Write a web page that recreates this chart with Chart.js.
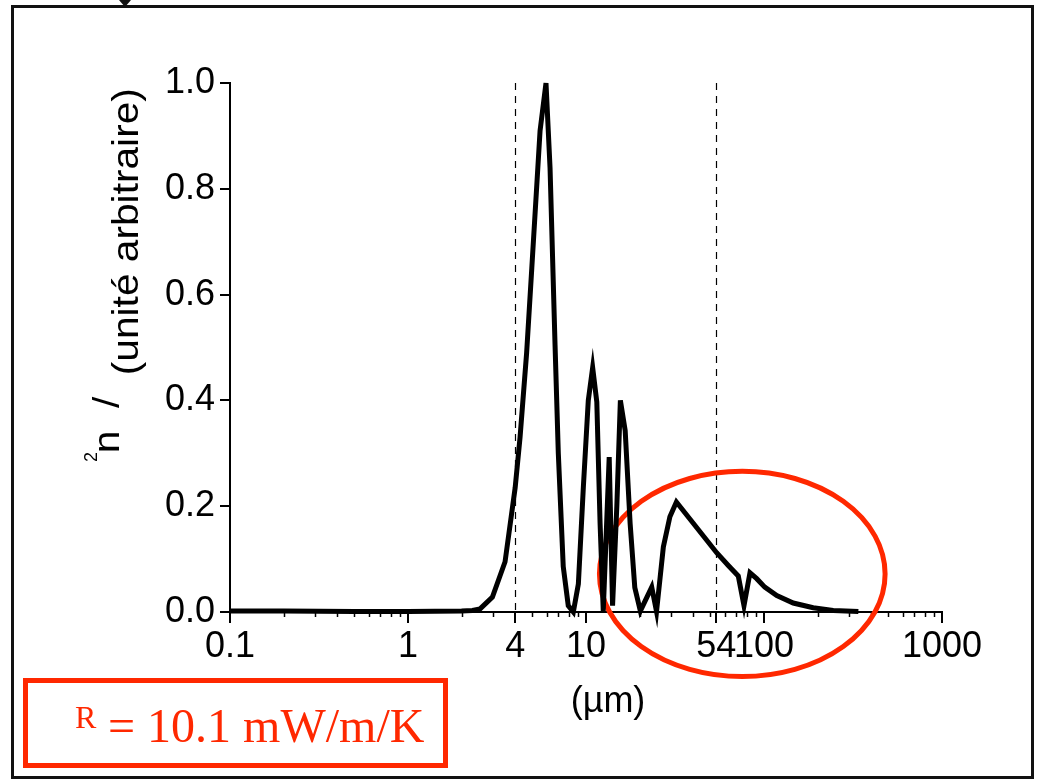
<!DOCTYPE html>
<html>
<head>
<meta charset="utf-8">
<script src="https://cdn.jsdelivr.net/npm/chart.js@4.4.0/dist/chart.umd.min.js"></script>
<style>
  html, body { margin: 0; padding: 0; background: #fff; }
  #wrap { width: 1040px; height: 780px; }
</style>
</head>
<body>
<div id="wrap"><canvas id="spectre" width="1040" height="780"></canvas></div>
<script>
// Longueurs d'onde (µm) et intensité relative
const wavelengths = [0.1, 0.2, 0.5, 1, 2, 2.3, 2.54, 2.98, 3.51, 4.0, 4.26, 4.64, 4.96, 5.52, 5.96,
    6.28, 6.7, 6.99, 7.45, 7.95, 8.49, 9.06, 9.66, 10.3, 10.9, 11.5, 12.0, 12.5, 13.5, 14.1,
    14.9, 15.6, 16.6, 17.7, 18.8, 20.2, 23.4, 24.9, 27.2, 29.6, 32.2, 54.2, 63.0, 71.7, 77.2,
    83.4, 91.0, 101, 118, 146, 189, 245, 339];
const intensity = [0.002, 0.002, 0.001, 0.001, 0.002, 0.003, 0.006, 0.028, 0.095, 0.235, 0.33, 0.49, 0.65, 0.91, 1.0,
    0.84, 0.505, 0.30, 0.086, 0.012, 0.0, 0.053, 0.235, 0.40, 0.462, 0.397, 0.167, 0.002, 0.293, 0.012,
    0.2, 0.40, 0.343, 0.167, 0.046, 0.002, 0.047, 0.001, 0.123, 0.18, 0.208, 0.112, 0.088, 0.068, 0.012,
    0.074, 0.063, 0.047, 0.031, 0.017, 0.008, 0.003, 0.001];

// Graduations de l'axe x
const xTickValues = [0.1, 1, 4, 10, 54, 100, 1000];
const xTickLabels = ['0.1', '1', '4', '10', '54', '100', '1000'];

// Lignes pointillées verticales (µm)
const markerLines = [4, 54];

// Ellipse rouge : étendue en µm et en intensité
const ellipseX = [11.9, 479];
const ellipseY = [-0.122, 0.266];

const xTitle = '(µm)';
const yTitleMain = '(unité arbitraire)';
const yTitleLead = 'n  /';
const boxSub = 'R';
const boxText = '= 10.1 mW/m/K';

const red = 'rgb(255, 40, 0)';
const sans = '"Liberation Sans", Arial, sans-serif';
const serif = '"Liberation Serif", "Times New Roman", serif';

// texte vertical, légèrement étiré dans le sens de la lecture
function verticalText(ctx, text, x, y, size, stretch) {
    ctx.save();
    ctx.translate(x, y);
    ctx.rotate(-Math.PI / 2);
    ctx.scale(stretch, 1);
    ctx.font = size + 'px ' + sans;
    ctx.textAlign = 'left';
    ctx.textBaseline = 'alphabetic';
    const m = ctx.measureText(text);
    ctx.fillText(text, m.actualBoundingBoxLeft, 0);
    ctx.restore();
}

// Dessins autour du graphique : cadre, pointillés, ellipse, titres, encadré
const decor = {
    id: 'decor',
    beforeDraw(chart) {
        const ctx = chart.ctx;
        ctx.save();
        ctx.fillStyle = '#fff';
        ctx.fillRect(0, 0, chart.width, chart.height);
        // cadre extérieur
        ctx.strokeStyle = '#111';
        ctx.lineWidth = 3;
        ctx.strokeRect(12.5, 6.5, 1020, 771);
        // petit triangle coupé en haut
        ctx.fillStyle = '#111';
        ctx.beginPath();
        ctx.moveTo(119, 0);
        ctx.lineTo(131, 0);
        ctx.lineTo(125, 7);
        ctx.closePath();
        ctx.fill();
        ctx.restore();
    },
    beforeDatasetsDraw(chart) {
        const { ctx, chartArea, scales: { x, y } } = chart;
        ctx.save();
        // pointillés
        ctx.strokeStyle = '#000';
        ctx.lineWidth = 1.2;
        ctx.setLineDash([7, 6]);
        markerLines.forEach(v => {
            const px = Math.round(x.getPixelForValue(v)) + 0.5;
            ctx.beginPath();
            ctx.moveTo(px, chartArea.top);
            ctx.lineTo(px, chartArea.bottom);
            ctx.stroke();
        });
        ctx.setLineDash([]);
        // petites graduations logarithmiques
        ctx.lineWidth = 1.5;
        for (let d = 0.1; d < 1000; d *= 10) {
            for (let k = 2; k <= 9; k++) {
                const v = k * d;
                if (xTickValues.some(t => Math.abs(t - v) < 1e-9)) continue;
                const px = Math.round(x.getPixelForValue(v)) + 0.5;
                ctx.beginPath();
                ctx.moveTo(px, chartArea.bottom);
                ctx.lineTo(px, chartArea.bottom + 5);
                ctx.stroke();
            }
        }
        // ellipse rouge
        const l = x.getPixelForValue(ellipseX[0]);
        const r = x.getPixelForValue(ellipseX[1]);
        const t = y.getPixelForValue(ellipseY[1]);
        const b = y.getPixelForValue(ellipseY[0]);
        ctx.strokeStyle = red;
        ctx.lineWidth = 5;
        ctx.beginPath();
        ctx.ellipse((l + r) / 2, (t + b) / 2, (r - l) / 2, (b - t) / 2, 0, 0, Math.PI * 2);
        ctx.stroke();
        ctx.restore();
    },
    afterDraw(chart) {
        const { ctx, chartArea } = chart;
        ctx.save();
        ctx.fillStyle = '#000';
        // titre de l'axe y (en trois morceaux, comme sur l'original)
        verticalText(ctx, yTitleMain, 138, 373, 36, 1.13);
        verticalText(ctx, yTitleLead, 119, 451, 36, 1.13);
        ctx.save();
        ctx.translate(97, 462);
        ctx.rotate(-Math.PI / 2);
        ctx.font = '18px ' + sans;
        ctx.fillText('2', 0, 0);
        ctx.restore();
        // titre de l'axe x
        ctx.font = '36px ' + sans;
        ctx.textAlign = 'center';
        ctx.textBaseline = 'alphabetic';
        ctx.fillText(xTitle, (chartArea.left + chartArea.right) / 2 + 22, 712);
        // encadré rouge
        ctx.strokeStyle = red;
        ctx.lineWidth = 5;
        ctx.strokeRect(25.5, 680.5, 420, 85);
        ctx.fillStyle = red;
        ctx.textAlign = 'left';
        ctx.font = '32px ' + serif;
        ctx.fillText(boxSub, 75, 728);
        ctx.font = '48px ' + serif;
        ctx.fillText(boxText, 108, 742);
        ctx.restore();
    }
};

const ctx = document.getElementById('spectre').getContext('2d');
new Chart(ctx, {
    type: 'line',
    data: {
        datasets: [{
            data: wavelengths.map((w, i) => ({ x: w, y: intensity[i] })),
            borderColor: '#000',
            borderWidth: 5,
            pointRadius: 0,
            tension: 0,
            fill: false,
            clip: false
        }]
    },
    options: {
        responsive: false,
        animation: false,
        events: [],
        layout: { padding: { left: 0, top: 83, right: 98, bottom: 0 } },
        plugins: { legend: { display: false }, tooltip: { enabled: false } },
        scales: {
            x: {
                type: 'logarithmic',
                min: 0.1,
                max: 1000,
                afterFit: scale => { scale.height = 168; },
                afterBuildTicks: scale => { scale.ticks = xTickValues.map(v => ({ value: v })); },
                border: { color: '#000', width: 2 },
                grid: { drawOnChartArea: false, color: '#000', lineWidth: 2, tickLength: 11 },
                ticks: {
                    autoSkip: false,
                    maxRotation: 0,
                    padding: 2,
                    color: '#000',
                    font: { family: sans, size: 36 },
                    callback: (value, index) => xTickLabels[index]
                }
            },
            y: {
                min: 0,
                max: 1,
                afterFit: scale => { scale.width = 230; },
                border: { color: '#000', width: 2 },
                grid: { drawOnChartArea: false, color: '#000', lineWidth: 2, tickLength: 10 },
                ticks: {
                    stepSize: 0.2,
                    padding: 5,
                    color: '#000',
                    font: { family: sans, size: 36 },
                    callback: value => value.toFixed(1)
                }
            }
        }
    },
    plugins: [decor]
});
</script>
</body>
</html>
